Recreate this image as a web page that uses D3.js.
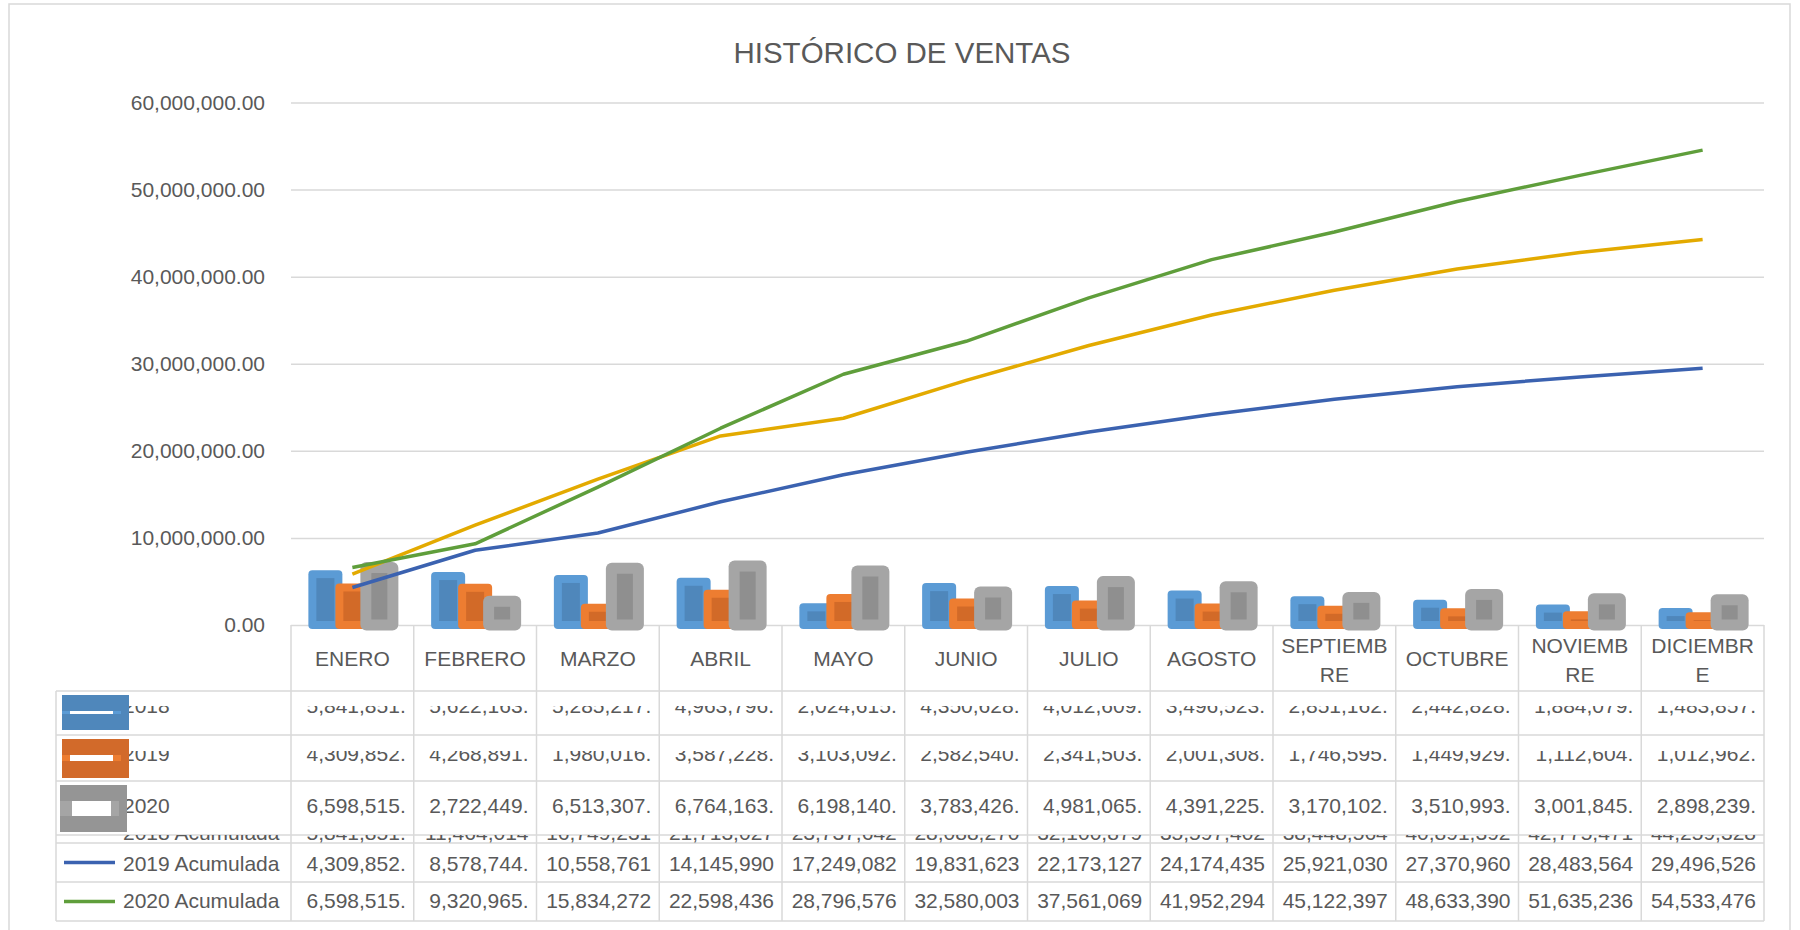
<!DOCTYPE html>
<html><head><meta charset="utf-8">
<script src="https://cdn.jsdelivr.net/npm/d3@7"></script>
<style>html,body{margin:0;padding:0;background:#fff;}svg{display:block;}</style>
</head><body>
<svg id="c" width="1800" height="930"></svg>
<script>
// ---- DATA ----
const months = ["ENERO","FEBRERO","MARZO","ABRIL","MAYO","JUNIO","JULIO","AGOSTO","SEPTIEMBRE","OCTUBRE","NOVIEMBRE","DICIEMBRE"];
const barSeries = ["2018","2019","2020"];
const v2018 = [5841851,5622163,5285217,4963796,2024615,4350628,4012609,3496523,2851162,2442828,1884079,1483857];
const v2019 = [4309852,4268891,1980016,3587228,3103092,2582540,2341503,2001308,1746595,1449929,1112604,1012962];
const v2020 = [6598515,2722449,6513307,6764163,6198140,3783426,4981065,4391225,3170102,3510993,3001845,2898239];
const lineSeries = ["2018 Acumulada","2019 Acumulada","2020 Acumulada"];
const a2018 = [5841851,11464014,16749231,21713027,23737642,28088270,32100879,35597402,38448564,40891392,42775471,44259328];
const a2019 = [4309852,8578744,10558761,14145990,17249082,19831623,22173127,24174435,25921030,27370960,28483564,29496526];
const a2020 = [6598515,9320965,15834272,22598436,28796576,32580003,37561069,41952294,45122397,48633390,51635236,54533476];
const yTicks = [0,10000000,20000000,30000000,40000000,50000000,60000000];
const title = "HISTÓRICO DE VENTAS";

// ---- STYLE / LAYOUT ----
const FONT = "'Liberation Sans', Arial, sans-serif";
const TXT = "#595959", GRID = "#D9D9D9";
const barLight = ["#5B9BD5","#ED7D31","#A5A5A5"];
const barDark  = ["#4F87BB","#D26A28","#8F8F8F"];
const keyDark  = ["#4F87BB","#D26A2A","#959595"];
const barW = [26,26,27], barS = [8,8,11], barR = [4,4,6];
const lineColors = ["#E3AA00","#3B62B0","#5F9E3B"];

const svg = d3.select("#c");
const X0 = 291, X1 = 1764, TL = 56;
const x = d3.scaleBand().domain(months).range([X0, X1]);
const xs = d3.scaleBand().domain(barSeries).range([-40.5, 40.5]);
const y = d3.scaleLinear().domain([0, 60000000]).range([625, 102.5]);
const bw = x.bandwidth();
const cx = m => x(m) + bw / 2;

// outer chart border
svg.append("rect").attr("x", 9).attr("y", 4).attr("width", 1781).attr("height", 940)
  .attr("fill", "#fff").attr("stroke", GRID).attr("stroke-width", 1.5);

// title
svg.append("text").attr("x", 902).attr("y", 63).attr("text-anchor", "middle")
  .attr("font-family", FONT).attr("font-size", 29.5).attr("fill", TXT).text(title);

// y axis + gridlines
const gy = svg.append("g").attr("transform", `translate(${X0},0)`)
  .call(d3.axisLeft(y).tickValues(yTicks).tickFormat(d3.format(",.2f"))
    .tickSizeInner(-(X1 - X0)).tickSizeOuter(0).tickPadding(26));
gy.select(".domain").remove();
gy.selectAll(".tick line").attr("stroke", GRID).attr("stroke-width", 1.5);
gy.selectAll(".tick text").attr("font-family", FONT).attr("font-size", 21).attr("fill", TXT);

// ---- DATA TABLE GRID ----
const rows = [
  {label: "2018", vals: v2018, top: 691, bottom: 735, base: 713, clip: 706, key: "bar", i: 0},
  {label: "2019", vals: v2019, top: 735, bottom: 781, base: 761, clip: 751, key: "bar", i: 1},
  {label: "2020", vals: v2020, top: 781, bottom: 835, base: 813, clip: 781, key: "bar", i: 2},
  {label: lineSeries[0], vals: a2018, top: 835, bottom: 843, base: 840, clip: 835, key: "none", i: 0},
  {label: lineSeries[1], vals: a2019, top: 843, bottom: 882, base: 871, clip: 843, key: "line", i: 1},
  {label: lineSeries[2], vals: a2020, top: 882, bottom: 921, base: 908, clip: 882, key: "line", i: 2}
];
const tg = svg.append("g").attr("stroke", GRID).attr("stroke-width", 1.5);
const hLines = [691].concat(rows.map(r => r.bottom));
hLines.forEach(v => tg.append("line").attr("x1", TL).attr("x2", X1).attr("y1", v).attr("y2", v));
tg.append("line").attr("x1", TL).attr("x2", TL).attr("y1", 691).attr("y2", 921);
months.forEach(m => tg.append("line").attr("x1", x(m)).attr("x2", x(m)).attr("y1", 625).attr("y2", 921));
tg.append("line").attr("x1", X1).attr("x2", X1).attr("y1", 625).attr("y2", 921);

// category labels with char wrapping
const catG = svg.append("g").attr("font-family", FONT).attr("font-size", 21).attr("fill", TXT).attr("text-anchor", "middle");
const meas = svg.append("text").attr("font-family", FONT).attr("font-size", 21);
function wrap(s, maxW) {
  const lines = []; let cur = "";
  for (const ch of s) {
    meas.text(cur + ch);
    if (cur && meas.node().getComputedTextLength() > maxW) { lines.push(cur); cur = ch; }
    else cur += ch;
  }
  lines.push(cur); return lines;
}
months.forEach(m => {
  const ls = wrap(m, 108);
  const t = catG.append("text").attr("x", cx(m));
  if (ls.length === 1) t.attr("y", 666).text(ls[0]);
  else ls.forEach((l, k) => t.append("tspan").attr("x", cx(m)).attr("y", 653 + k * 29).text(l));
});
meas.remove();

// ---- BARS ----
const barData = [v2018, v2019, v2020];
const bg = svg.append("g");
barData.forEach((vals, si) => {
  const s = barS[si], w = barW[si];
  vals.forEach((v, mi) => {
    const c = cx(months[mi]) + xs(barSeries[si]) + xs.bandwidth() / 2;
    const top = y(v), base = y(0);
    bg.append("rect").attr("x", c - w / 2 - s / 2).attr("y", top - s / 2)
      .attr("width", w + s).attr("height", base - top + s).attr("rx", barR[si])
      .attr("fill", barLight[si]);
    const ih = Math.max(0, base - top - s);
    bg.append("rect").attr("x", c - w / 2 + s / 2).attr("y", top + s / 2)
      .attr("width", w - s).attr("height", ih).attr("fill", barDark[si]);
  });
});

// ---- LINES ----
const lineData = [a2018, a2019, a2020];
const line = d3.line().x((d, i) => cx(months[i])).y(d => y(d));
lineData.forEach((vals, li) => {
  svg.append("path").attr("d", line(vals)).attr("fill", "none")
    .attr("stroke", lineColors[li]).attr("stroke-width", 3.5).attr("stroke-linejoin", "round");
});

// ---- TABLE TEXT ----
const fmt = v => d3.format(",.2f")(v).slice(0, 10);
const defs = svg.append("defs");
rows.forEach((r, ri) => {
  defs.append("clipPath").attr("id", "rc" + ri).append("rect")
    .attr("x", TL).attr("y", r.clip).attr("width", X1 - TL).attr("height", r.bottom - r.clip);
  const g = svg.append("g").attr("clip-path", `url(#rc${ri})`)
    .attr("font-family", FONT).attr("font-size", 21).attr("fill", TXT);
  g.append("text").attr("x", 123).attr("y", r.base).text(r.label);
  r.vals.forEach((v, mi) => {
    g.append("text").attr("x", x(months[mi]) + bw - 8).attr("y", r.base)
      .attr("text-anchor", "end").text(fmt(v));
  });
});

// ---- LEGEND KEYS ----
const keyBox = [{x: 62, y: 695, h: 35, by: 711, bh: 3}, {x: 62, y: 739, h: 39, by: 755, bh: 6}, {x: 60, y: 785, h: 47, by: 801, bh: 15}];
keyBox.forEach((k, i) => {
  svg.append("rect").attr("x", k.x).attr("y", k.y).attr("width", 67).attr("height", k.h).attr("fill", keyDark[i]);
  const lw = i === 2 ? 12 : 8;
  svg.append("rect").attr("x", k.x).attr("y", k.by).attr("width", 59).attr("height", k.bh).attr("fill", barLight[i]);
  svg.append("rect").attr("x", k.x + lw).attr("y", k.by).attr("width", 59 - 2 * lw + (i === 2 ? 4 : 0)).attr("height", k.bh).attr("fill", "#fff");
});
rows.filter(r => r.key === "line").forEach(r => {
  const cy = (r.top + r.bottom) / 2;
  svg.append("line").attr("x1", 64).attr("x2", 115).attr("y1", cy).attr("y2", cy)
    .attr("stroke", lineColors[r.i]).attr("stroke-width", 3.5);
});
</script>
</body></html>
